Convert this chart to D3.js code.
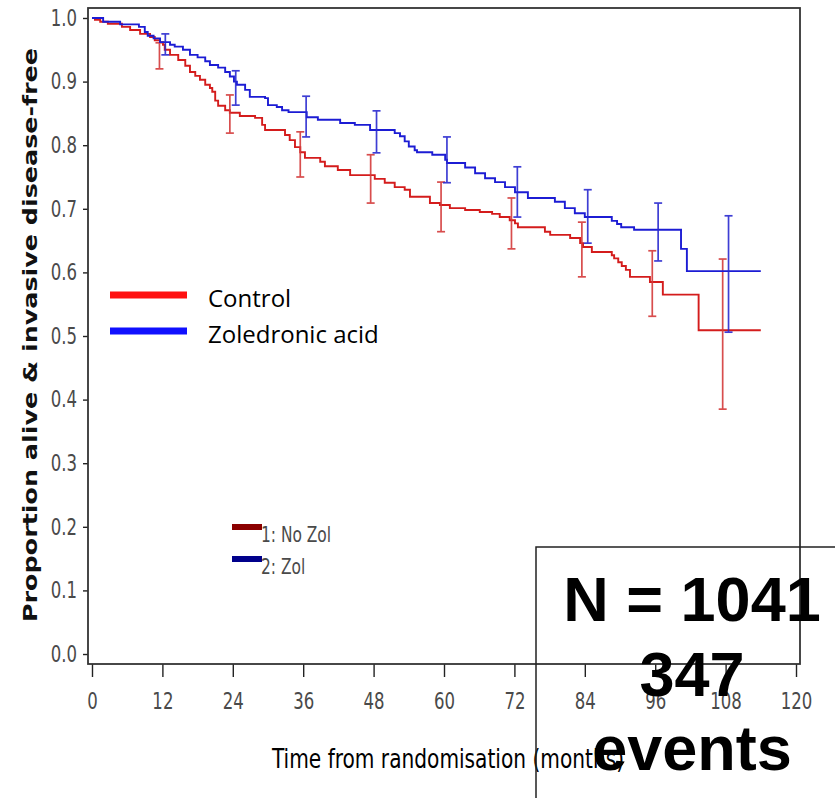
<!DOCTYPE html>
<html>
<head>
<meta charset="utf-8">
<script src="https://cdn.jsdelivr.net/npm/d3@7"></script>
<style>
	body { margin: 0; background: #fff; }
	svg { display: block; }
	.tick text { font-family: 'Liberation Sans Narrow', 'DejaVu Sans Condensed', sans-serif; fill: #4a4a4a; }
	.tick line { stroke: #222; stroke-width: 1.4; }
</style>
</head>
<body>
<div id="chart"></div>
<script>
// survival curves: [month, proportion], step after
const controlCurve = [
	[0, 1.0], [0.5, 0.997], [1.4, 0.994], [2.7, 0.991], [5.1, 0.986], [6.5, 0.981],
	[8.2, 0.975], [9.9, 0.970], [10.7, 0.965], [11.6, 0.962], [12.1, 0.958], [12.4, 0.950],
	[13.3, 0.942], [14.7, 0.934], [15.9, 0.925], [16.7, 0.915], [17.6, 0.909], [18.4, 0.903],
	[19.3, 0.895], [20.1, 0.890], [20.5, 0.884], [21.0, 0.870], [21.5, 0.862], [22.7, 0.855],
	[23.5, 0.851], [25.2, 0.846], [27.8, 0.843], [29.0, 0.832], [29.5, 0.824], [32.9, 0.816],
	[33.7, 0.808], [34.6, 0.797], [35.5, 0.789], [36.3, 0.780], [38.9, 0.774], [39.7, 0.767],
	[41.9, 0.761], [44.0, 0.753], [48.2, 0.747], [49.9, 0.741], [51.6, 0.734], [53.3, 0.730],
	[54.2, 0.719], [57.6, 0.709], [59.3, 0.706], [61.0, 0.701], [63.6, 0.698], [66.1, 0.695],
	[68.2, 0.692], [69.5, 0.687], [71.2, 0.682], [72.1, 0.677], [72.6, 0.671], [77.2, 0.664],
	[78.1, 0.659], [81.5, 0.654], [83.2, 0.646], [83.7, 0.640], [85.2, 0.632], [88.6, 0.627],
	[89.0, 0.622], [89.7, 0.616], [90.3, 0.610], [91.0, 0.604], [91.7, 0.593], [95.1, 0.585],
	[97.3, 0.565], [103.4, 0.509], [114.0, 0.509]
];

const zolCurve = [
	[0, 1.0], [1.9, 0.994], [4.8, 0.990], [8.0, 0.986], [9.0, 0.978], [9.5, 0.972],
	[10.5, 0.968], [11.6, 0.962], [13.3, 0.958], [14.1, 0.955], [15.5, 0.950], [16.7, 0.942],
	[18.0, 0.938], [19.3, 0.932], [20.1, 0.926], [21.5, 0.922], [22.7, 0.915], [23.5, 0.908],
	[24.2, 0.900], [24.7, 0.895], [26.1, 0.887], [26.9, 0.876], [29.5, 0.874], [30.0, 0.863],
	[31.5, 0.860], [32.4, 0.855], [33.5, 0.852], [36.6, 0.844], [38.5, 0.840], [42.3, 0.835],
	[44.8, 0.832], [47.4, 0.824], [51.6, 0.819], [52.5, 0.814], [53.3, 0.806], [54.0, 0.798],
	[55.0, 0.792], [55.4, 0.789], [58.0, 0.785], [60.2, 0.777], [60.5, 0.772], [63.6, 0.765],
	[65.3, 0.756], [67.0, 0.748], [68.7, 0.742], [70.4, 0.734], [72.1, 0.726], [74.3, 0.717],
	[78.9, 0.711], [80.6, 0.701], [82.3, 0.693], [84.0, 0.687], [88.6, 0.681], [89.5, 0.676],
	[90.2, 0.671], [92.4, 0.667], [100.4, 0.637], [101.4, 0.602], [114.0, 0.602]
];

// confidence intervals at yearly marks: [month, low, high]
const controlCI = [
	[12, 0.920, 0.961], [24, 0.819, 0.879], [36, 0.750, 0.821], [48, 0.709, 0.785],
	[60, 0.664, 0.742], [72, 0.637, 0.717], [84, 0.593, 0.679], [96, 0.531, 0.634],
	[108, 0.385, 0.621]
];
const zolCI = [
	[12, 0.942, 0.975], [24, 0.863, 0.917], [36, 0.813, 0.877], [48, 0.788, 0.854],
	[60, 0.741, 0.813], [72, 0.687, 0.766], [84, 0.646, 0.730], [96, 0.618, 0.709],
	[108, 0.506, 0.689]
];

const xTicks = [0, 12, 24, 36, 48, 60, 72, 84, 96, 108, 120];
const yTicks = [0, 0.1, 0.2, 0.3, 0.4, 0.5, 0.6, 0.7, 0.8, 0.9, 1.0];

const legendLabels = ['Control', 'Zoledronic acid'];
const sasLegendLabels = ['1: No Zol', '2: Zol'];
const boxLines = ['N = 1041', '347', 'events'];

const W = 835;
const H = 798;
const FRAME = { left: 88, top: 8, right: 800, bottom: 664 };
const DODGE = 0.5; // months, CI bars nudged apart
const NARROW = 'scale(0.8,1)'; // SAS output uses a tall, narrow face

const x = d3.scaleLinear().domain([-0.68, 120.68]).range([FRAME.left, FRAME.right]);
const y = d3.scaleLinear().domain([-0.0157, 1.0157]).range([FRAME.bottom, FRAME.top]);

const $svg = d3.select('#chart').append('svg').attr('width', W).attr('height', H);

// axes
const $xAxis = $svg.append('g')
	.attr('transform', `translate(0,${FRAME.bottom})`)
	.call(d3.axisBottom(x).tickValues(xTicks).tickSize(13).tickPadding(11).tickFormat(d3.format('d')));
$xAxis.selectAll('.tick text')
	.style('font-size', '23px')
	.attr('dy', '0.9em')
	.attr('transform', NARROW);

const $yAxis = $svg.append('g')
	.attr('transform', `translate(${FRAME.left},0)`)
	.call(d3.axisLeft(y).tickValues(yTicks).tickSize(5).tickPadding(8.75).tickFormat(d3.format('.1f')));
$yAxis.selectAll('.tick text')
	.style('font-size', '23px')
	.attr('transform', NARROW);
$svg.selectAll('.domain').remove();

// frame
$svg.append('rect')
	.attr('x', FRAME.left).attr('y', FRAME.top)
	.attr('width', FRAME.right - FRAME.left).attr('height', FRAME.bottom - FRAME.top)
	.attr('fill', 'none').attr('stroke', '#333').attr('stroke-width', 1.8);

// curves
const line = d3.line().curve(d3.curveStepAfter).x(d => x(d[0])).y(d => y(d[1]));
const series = [
	{ curve: controlCurve, ci: controlCI, color: '#d41c1c', bar: '#d43a3a', shift: -DODGE },
	{ curve: zolCurve, ci: zolCI, color: '#1c1cd4', bar: '#2a2ad0', shift: DODGE }
];

series.forEach(s => {
	$svg.append('path')
		.datum(s.curve)
		.attr('d', line)
		.attr('fill', 'none')
		.attr('stroke', s.color)
		.attr('stroke-width', 1.9);

	const $bars = $svg.append('g')
		.attr('stroke', s.bar)
		.attr('stroke-width', 1.7)
		.attr('opacity', 0.9);
	const $bar = $bars.selectAll('g').data(s.ci).join('g');
	$bar.append('line')
		.attr('x1', d => x(d[0] + s.shift)).attr('x2', d => x(d[0] + s.shift))
		.attr('y1', d => y(d[1])).attr('y2', d => y(d[2]));
	[1, 2].forEach(k => {
		$bar.append('line')
			.attr('x1', d => x(d[0] + s.shift) - 4).attr('x2', d => x(d[0] + s.shift) + 4)
			.attr('y1', d => y(d[k])).attr('y2', d => y(d[k]));
	});
});

// main legend
const legendColors = ['#ff1010', '#1010ff'];
const $legend = $svg.append('g').attr('transform', 'translate(110,295)');
legendLabels.forEach((label, i) => {
	const $row = $legend.append('g').attr('transform', `translate(0,${i * 36})`);
	$row.append('line').attr('x1', 0).attr('x2', 77).attr('stroke', legendColors[i]).attr('stroke-width', 7);
	$row.append('text')
		.attr('x', 98).attr('y', 12)
		.style('font-family', "'Open Sans', sans-serif")
		.style('font-size', '24px')
		.attr('fill', '#000')
		.text(label);
});

// SAS legend
const sasColors = ['#8b0000', '#00008b'];
const $sas = $svg.append('g').attr('transform', 'translate(232,524)');
sasLegendLabels.forEach((label, i) => {
	const $row = $sas.append('g').attr('transform', `translate(0,${i * 32})`);
	$row.append('rect').attr('width', 30).attr('height', 6).attr('fill', sasColors[i]);
	$row.append('text')
		.attr('transform', 'translate(29,18) scale(0.78,1)')
		.style('font-family', "'Liberation Sans Narrow', 'DejaVu Sans Condensed', sans-serif")
		.style('font-size', '22px')
		.attr('fill', '#4a4a4a')
		.text(label);
});

// axis titles
$svg.append('text')
	.attr('transform', 'translate(37,335) rotate(-90)')
	.attr('text-anchor', 'middle')
	.attr('textLength', 574)
	.attr('lengthAdjust', 'spacingAndGlyphs')
	.style('font-family', "'DejaVu Sans', sans-serif")
	.style('font-size', '19px')
	.style('font-weight', 'bold')
	.attr('fill', '#111')
	.text('Proportion alive & invasive disease-free');

$svg.append('text')
	.attr('transform', 'translate(272,768) scale(0.83,1)')
	.style('font-family', "'Liberation Sans Narrow', 'DejaVu Sans Condensed', sans-serif")
	.style('font-size', '27px')
	.attr('fill', '#000')
	.text('Time from randomisation (months)');

// annotation box
$svg.append('rect')
	.attr('x', 536).attr('y', 547)
	.attr('width', 320).attr('height', 280)
	.attr('fill', 'none').attr('stroke', '#222').attr('stroke-width', 1.5);

$svg.append('g').selectAll('text').data(boxLines).join('text')
	.attr('x', 692)
	.attr('y', (d, i) => [621, 696, 770][i])
	.attr('text-anchor', 'middle')
	.style('font-family', "'Liberation Sans', Arial, sans-serif")
	.style('font-size', '63px')
	.style('font-weight', 'bold')
	.attr('fill', '#000')
	.text(d => d);
</script>
</body>
</html>
